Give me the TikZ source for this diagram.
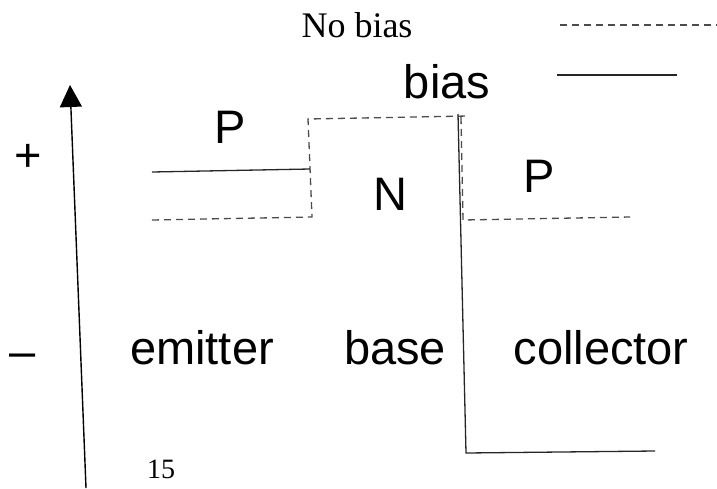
\documentclass[tikz,border=0pt]{standalone}
\usepackage{fontspec}
\setmainfont{Liberation Serif}
\setsansfont{Liberation Sans}
\usetikzlibrary{arrows.meta}
\begin{document}
\begin{tikzpicture}[x=1pt,y=-1pt,
  band/.style={line width=1.3pt,black!85},
  noband/.style={line width=1.3pt,black!70,dash pattern=on 7pt off 5pt},
  big/.style={font=\sffamily\fontsize{47}{53}\selectfont,inner sep=0pt,anchor=base},
  serif/.style={font=\rmfamily\fontsize{#1}{#1}\selectfont,inner sep=0pt,anchor=base}]
\useasboundingbox (0,0) rectangle (717,488);

% legend
\node[serif=36] (nobias) at (357,37) {No bias};
\coordinate (ld1) at (560,25); \coordinate (ld2) at (717,25);
\draw[noband] (ld1) -- (ld2);
\node[big] (bias) at (447,98) {bias};
\coordinate (ls1) at (557,75); \coordinate (ls2) at (677,75);
\draw[band] (ls1) -- (ls2);

% energy axis
\coordinate (ax0) at (86,488); \coordinate (ax1) at (70,85);
\draw[line width=1.4pt,-{Triangle[length=22pt,width=22pt]}] (ax0) -- (ax1);
\node[big,anchor=center] (plus) at (28,158) {+};
\node[big,anchor=center] (minus) at (23,361) {–};

% region labels
\node[big] (pe) at (230,143) {P};
\node[big] (nb) at (390,210) {N};
\node[big] (pc) at (539,192) {P};
\node[big] (em) at (202,364) {emitter};
\node[big] (ba) at (395,364) {base};
\node[big] (co) at (601,364) {collector};
\node[serif=28] (pg) at (161,478) {15};

% unbiased band edge
\coordinate (n1) at (152,220); \coordinate (n2) at (312,217);
\coordinate (n3) at (308,119); \coordinate (n4) at (468,116);
\coordinate (n5) at (461,117); \coordinate (n6) at (463,220);
\coordinate (n7) at (630,217);
\draw[noband] (n1) -- (n2) -- (n3) -- (n4);
\draw[noband] (n5) -- (n6) -- (n7);

% biased band edge
\coordinate (b1) at (152,172); \coordinate (b2) at (310,169);
\coordinate (b3) at (458,114); \coordinate (b4) at (466,453);
\coordinate (b5) at (655,451);
\draw[band] (b1) -- (b2);
\draw[band] (b3) -- (b4) -- (b5);
\end{tikzpicture}
\end{document}
